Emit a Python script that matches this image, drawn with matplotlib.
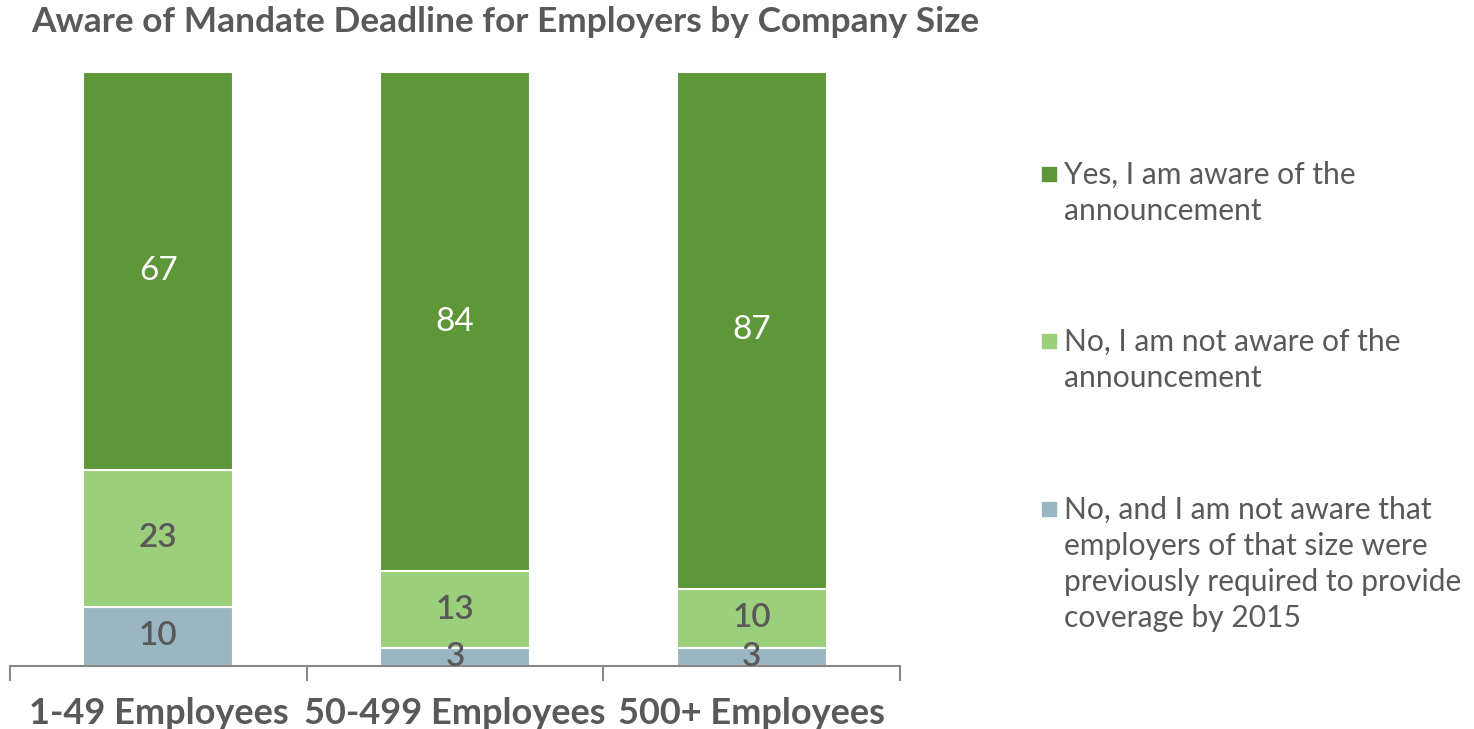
import numpy as np
import matplotlib.pyplot as plt
from matplotlib.patches import Rectangle

plt.rcParams['font.family'] = ['Lato', 'DejaVu Sans']

categories = ['1-49 Employees', '50-499 Employees', '500+ Employees']
not_aware_prior = [10, 3, 3]
not_aware = [23, 13, 10]
aware = [67, 84, 87]

series = [
    ('No, and I am not aware that\nemployers of that size were\npreviously required to provide\ncoverage by 2015', not_aware_prior, '#9BB6C3', '#595959'),
    ('No, I am not aware of the\nannouncement', not_aware, '#9BCF7B', '#595959'),
    ('Yes, I am aware of the\nannouncement', aware, '#5D9737', 'white'),
]

grey = '#595959'
fig = plt.figure(figsize=(14.74, 7.29), dpi=100)
ax = fig.add_axes([0.0068, 0.0864, 0.6038, 0.8148])

x = np.arange(len(categories))
bottom = np.zeros(len(categories))
for label, vals, color, txtcolor in series:
    vals = np.array(vals, dtype=float)
    ax.bar(x, vals, 0.506, bottom=bottom, color=color,
           edgecolor='white', linewidth=1.5, label=label)
    for xi, b, v in zip(x, bottom, vals):
        ax.text(xi, b + v / 2, f'{int(v)}', ha='center', va='center',
                fontsize=24, color=txtcolor,
                fontweight='normal' if txtcolor == 'white' else 'semibold')
    bottom += vals

ax.set_xlim(-0.5, 2.5)
ax.set_ylim(0, 100)
for s in ['left', 'right', 'top']:
    ax.spines[s].set_visible(False)
ax.spines['bottom'].set_color('#878787')
ax.spines['bottom'].set_linewidth(1.5)
ax.set_yticks([])
ax.set_xticks(x)
ax.set_xticklabels(categories, fontsize=26, fontweight='bold', color=grey)
ax.tick_params(axis='x', which='major', length=0, pad=22)
ax.set_xticks([-0.5, 0.5, 1.5, 2.5], minor=True)
ax.tick_params(axis='x', which='minor', length=11, width=1.5, color='#878787')

fig.text(0.021, 0.97, 'Aware of Mandate Deadline for Employers by Company Size',
         fontsize=25.4, fontweight='bold', color=grey, ha='left', va='center')

# legend, drawn top to bottom; ypx is the first line's baseline (px from top)
line_px = 36
legend_rows = [(series[2], 184), (series[1], 351), (series[0], 519)]
for (label, vals, color, _), ypx in legend_rows:
    n_lines = label.count('\n') + 1
    last_base = ypx + (n_lines - 1) * line_px
    fig.add_artist(Rectangle((1042 / 1474, 1 - (ypx - 3) / 729), 14 / 1474, 14 / 729,
                             transform=fig.transFigure, color=color))
    fig.text(1064 / 1474, 1 - last_base / 729, label, fontsize=21.6, color=grey,
             ha='left', va='baseline', linespacing=1.35)

fig.savefig('out.png', dpi=100)
